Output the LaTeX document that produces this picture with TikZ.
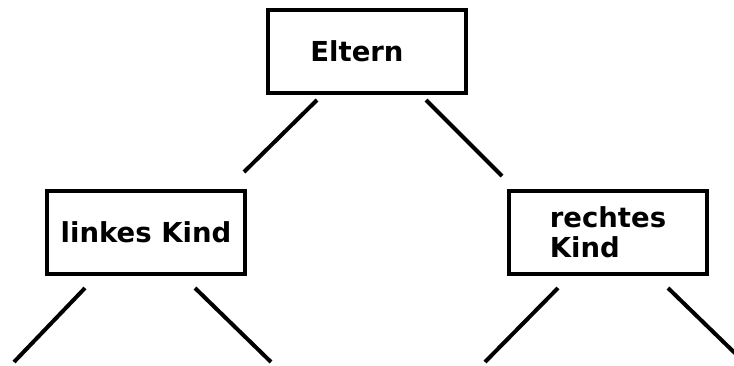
\documentclass[tikz,border=0pt]{standalone}
\usepackage{fontspec}
\setmainfont{DejaVu Sans}
\usepackage{tikz}
\usetikzlibrary{positioning,calc}

\begin{document}
\begin{tikzpicture}[
  x=1pt,y=-1pt,
  knoten/.style={draw,line width=3.5pt,minimum width=198pt,minimum height=83pt,
    inner sep=0pt,align=left,font=\fontsize{27.5}{30}\selectfont\bfseries},
  ast/.style={line width=4pt}]
  \useasboundingbox (0,0) rectangle (734,365);
  \node[knoten](eltern) at(367,51.5){Eltern\hspace*{20pt}};
  \node[knoten](links) at(146,232.5){linkes Kind};
  \node[knoten](rechts) at(608,232.5){rechtes\\Kind};
  % Endpunkte der Kanten
  \coordinate(e1) at(317,100);\coordinate(l1) at(244,172);
  \coordinate(e2) at(426,100);\coordinate(r1) at(502,176);
  \coordinate(l2) at(85,288);\coordinate(ll) at(14,362);
  \coordinate(l3) at(195,288);\coordinate(lr) at(271,362);
  \coordinate(r2) at(558,288);\coordinate(rl) at(485,362);
  \coordinate(r3) at(668,288);\coordinate(rr) at(740,358);
  \draw[ast](e1)--(l1);\draw[ast](e2)--(r1);
  \draw[ast](l2)--(ll);\draw[ast](l3)--(lr);
  \draw[ast](r2)--(rl);\draw[ast](r3)--(rr);
\end{tikzpicture}
\end{document}
